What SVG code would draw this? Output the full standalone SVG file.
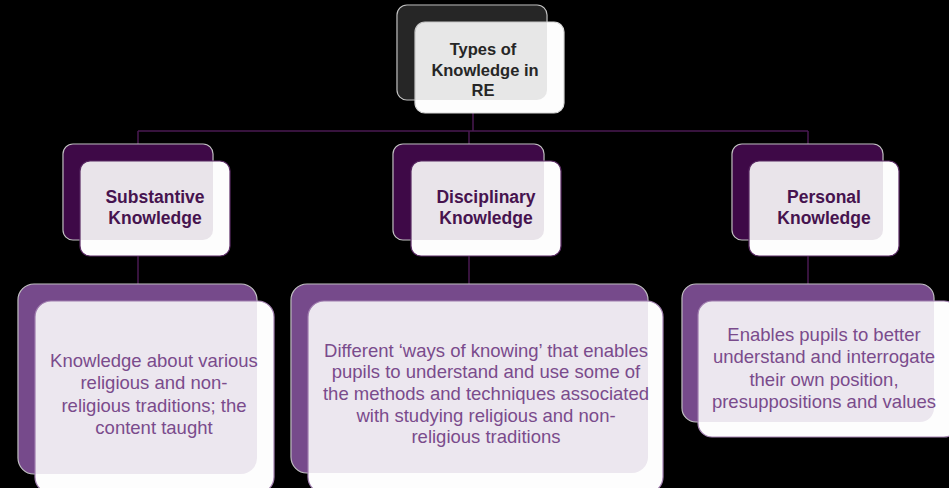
<svg xmlns="http://www.w3.org/2000/svg" width="949" height="488" viewBox="0 0 949 488">
<style>
.back{stroke:#c8c8c8;stroke-width:1.2}
.front{fill:#fdfdfd;stroke-width:1.2}
.tint{stroke:none}
.t1{font-family:"Liberation Sans",Arial,sans-serif;font-weight:bold;font-size:16.5px;fill:#262626;text-anchor:middle}
.t2{font-family:"Liberation Sans",Arial,sans-serif;font-weight:bold;font-size:17.5px;fill:#46134f;text-anchor:middle}
.t3{font-family:"Liberation Sans",Arial,sans-serif;font-size:18.5px;fill:#7a4b8c;text-anchor:middle}
.conn{stroke:#4a1a52;stroke-width:1.5;fill:none}
</style>
<rect width="949" height="488" fill="#000"/>
<g id="connectors">
<path class="conn" d="M473 113 V131 M138 131 H808 M138 131 V161 M469 131 V161 M808 131 V161"/>
<path class="conn" d="M138 256 V284 M469 256 V284 M808 256 V284"/>
</g>
<g id="node-root">
<rect class="back" x="397" y="5" width="150" height="95" rx="10" fill="#262626"/>
<rect class="front" x="415" y="22" width="149" height="91" rx="10" stroke="#d8d8d8"/>
<rect class="tint" x="397" y="5" width="150" height="95" rx="10" fill="#262626" fill-opacity="0.1"/>
<text class="t1" x="483" y="55">Types of</text>
<text class="t1" x="485" y="76">Knowledge in</text>
<text class="t1" x="483" y="96">RE</text>
</g>
<g id="node-substantive">
<rect class="back" x="63" y="144" width="150" height="96" rx="10" fill="#3f0a48"/>
<rect class="front" x="80" y="161" width="150" height="95" rx="10" stroke="#5a2a64"/>
<rect class="tint" x="63" y="144" width="150" height="96" rx="10" fill="#3f0a48" fill-opacity="0.1"/>
<text class="t2" x="155" y="203">Substantive</text>
<text class="t2" x="155" y="224">Knowledge</text>
</g>
<g id="node-disciplinary">
<rect class="back" x="393" y="144" width="151" height="96" rx="10" fill="#3f0a48"/>
<rect class="front" x="411" y="161" width="150" height="95" rx="10" stroke="#5a2a64"/>
<rect class="tint" x="393" y="144" width="151" height="96" rx="10" fill="#3f0a48" fill-opacity="0.1"/>
<text class="t2" x="486" y="203">Disciplinary</text>
<text class="t2" x="486" y="224">Knowledge</text>
</g>
<g id="node-personal">
<rect class="back" x="732" y="144" width="151" height="96" rx="10" fill="#3f0a48"/>
<rect class="front" x="749" y="161" width="150" height="95" rx="10" stroke="#5a2a64"/>
<rect class="tint" x="732" y="144" width="151" height="96" rx="10" fill="#3f0a48" fill-opacity="0.1"/>
<text class="t2" x="824" y="203">Personal</text>
<text class="t2" x="824" y="224">Knowledge</text>
</g>
<g id="node-substantive-desc">
<rect class="back" x="18" y="284" width="239" height="190" rx="16" fill="#774a8b"/>
<rect class="front" x="35" y="301" width="239" height="192" rx="16" stroke="#a583b3"/>
<rect class="tint" x="18" y="284" width="239" height="190" rx="16" fill="#774a8b" fill-opacity="0.12"/>
<text class="t3" x="154" y="367">Knowledge about various</text>
<text class="t3" x="154" y="389">religious and non-</text>
<text class="t3" x="154" y="412">religious traditions; the</text>
<text class="t3" x="154" y="434">content taught</text>
</g>
<g id="node-disciplinary-desc">
<rect class="back" x="291" y="284" width="357" height="189" rx="16" fill="#774a8b"/>
<rect class="front" x="308" y="301" width="355" height="192" rx="16" stroke="#a583b3"/>
<rect class="tint" x="291" y="284" width="357" height="189" rx="16" fill="#774a8b" fill-opacity="0.12"/>
<text class="t3" x="486" y="357">Different ‘ways of knowing’ that enables</text>
<text class="t3" x="486" y="378">pupils to understand and use some of</text>
<text class="t3" x="486" y="400">the methods and techniques associated</text>
<text class="t3" x="486" y="422">with studying religious and non-</text>
<text class="t3" x="486" y="443">religious traditions</text>
</g>
<g id="node-personal-desc">
<rect class="back" x="682" y="284" width="252" height="138" rx="14" fill="#774a8b"/>
<rect class="front" x="698" y="301" width="260" height="136" rx="14" stroke="#a583b3"/>
<rect class="tint" x="682" y="284" width="252" height="138" rx="14" fill="#774a8b" fill-opacity="0.12"/>
<text class="t3" x="824" y="341">Enables pupils to better</text>
<text class="t3" x="824" y="363">understand and interrogate</text>
<text class="t3" x="824" y="386">their own position,</text>
<text class="t3" x="824" y="408">presuppositions and values</text>
</g>
</svg>
